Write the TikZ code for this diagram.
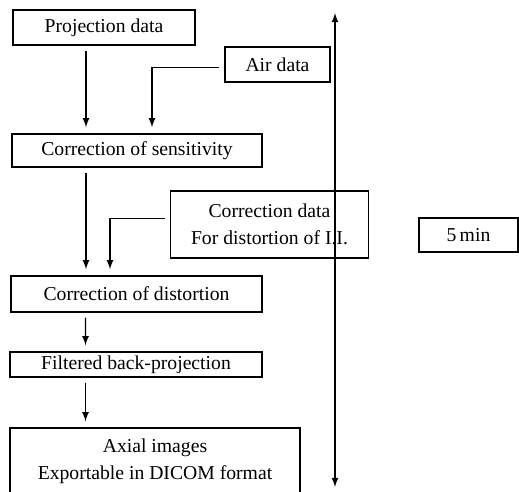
\documentclass[tikz,border=0pt]{standalone}
\usepackage{fontspec}
\setmainfont{Liberation Serif}
\usetikzlibrary{arrows,calc}

\begin{document}
\begin{tikzpicture}[x=0.2mm, y=-0.2mm, >=latex]
    \tikzset{box/.style = {shape=rectangle, draw, line width=0.8pt, inner sep=0pt, align=center,
        font=\fontsize{11.2}{15.4}\selectfont}}
    \tikzset{flow/.style = {draw, line width=0.8pt, ->, shorten <=1mm, shorten >=1.2mm}}

    \useasboundingbox (0,0) rectangle (519,492);

    % boxes
    \node[box, minimum width=36.4mm, minimum height=7mm]   (proj)  at (104,27.5)  {Projection data};
    \node[box, minimum width=21mm, minimum height=7mm]     (air)   at (277.5,64.5) {Air data};
    \node[box, minimum width=50mm, minimum height=6.6mm]   (sens)  at (137,150.5) {Correction of sensitivity};
    \node[box, minimum width=39.6mm, minimum height=13.4mm] (cdata) at (269.5,224.5) {Correction data\\For distortion of I.I.};
    \node[box, minimum width=50.2mm, minimum height=7.2mm] (dist)  at (136.5,294) {Correction of distortion};
    \node[box, minimum width=50.4mm, minimum height=5mm]   (fbp)   at (136,364.5) {Filtered back-projection};
    \node[box, minimum width=58mm, minimum height=13.2mm]  (axial) at (155,461) {Axial images\\Exportable in DICOM format};
    \node[box, minimum width=19.8mm, minimum height=6.8mm] (time)  at (468.5,235) {5\,min};

    % time span
    \coordinate (top) at (335,13);
    \coordinate (bot) at (335,487);
    \draw[{latex[scale=1.3]}-{latex[scale=1.3]}, line width=0.8pt] (top) -- (bot);

    % arrows
    \draw[flow] ($(proj.south)+(-18,0)$) -- ($(sens.north)+(-51,0)$);
    \draw[flow] ($(air.west)+(0,3)$) -| ($(sens.north)+(15,0)$);
    \draw[flow] ($(sens.south)+(-51,0)$) -- ($(dist.north)+(-50.5,0)$);
    \draw[flow] ($(cdata.west)+(0,-6)$) -| ($(dist.north)+(-26.5,0)$);
    \draw[flow] ($(dist.south)+(-51,0)$) -- ($(fbp.north)+(-50.5,0)$);
    \draw[flow] ($(fbp.south)+(-50.5,0)$) -- ($(axial.north)+(-69.5,0)$);
\end{tikzpicture}
\end{document}
